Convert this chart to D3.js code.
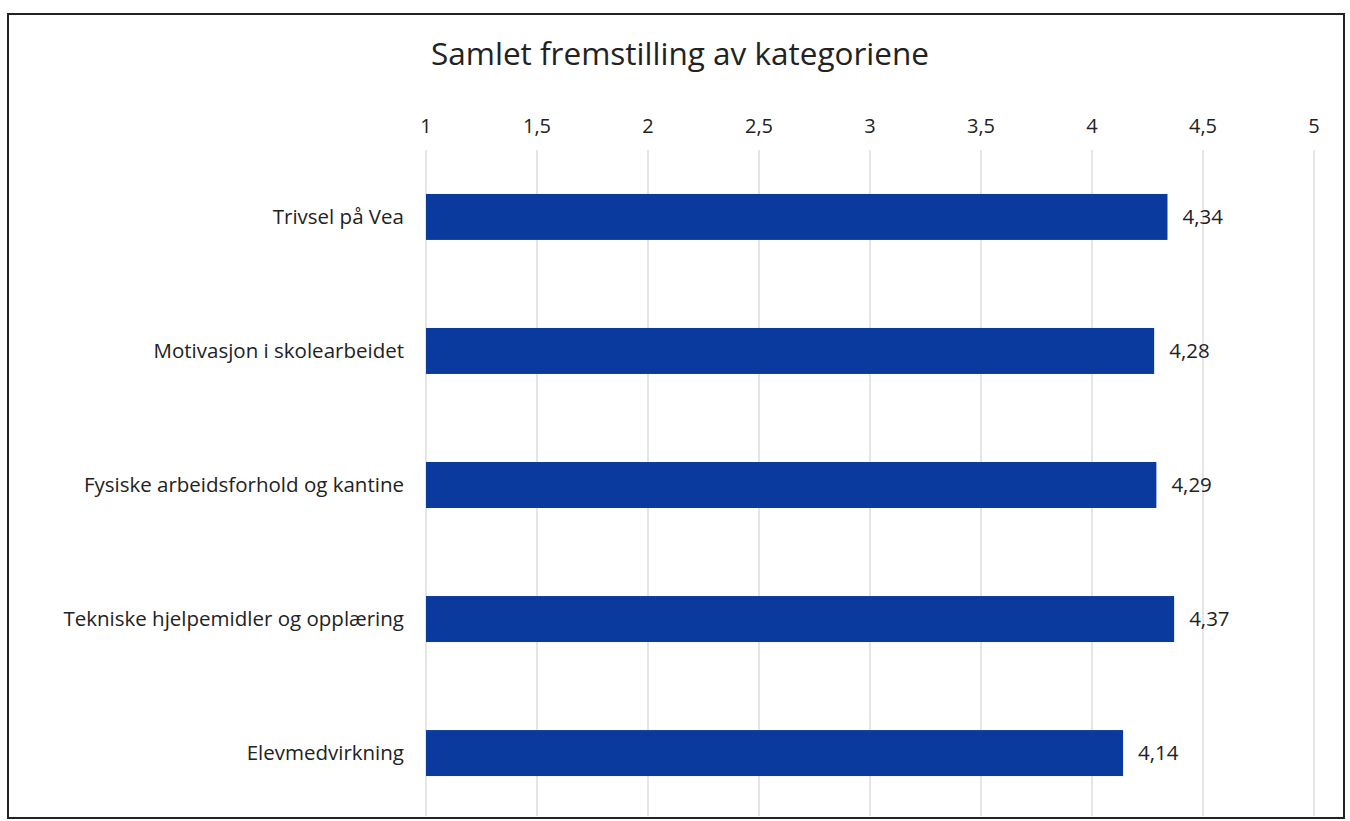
<!DOCTYPE html>
<html>
<head>
<meta charset="utf-8">
<script src="https://cdn.jsdelivr.net/npm/d3@7"></script>
<style>
  body { margin: 0; background: #fff; }
  svg { display: block; font-family: "Open Sans", Lato, sans-serif; }
</style>
</head>
<body>
<svg class="chart"></svg>
<script>
// chart data
var categories = ["Trivsel på Vea", "Motivasjon i skolearbeidet", "Fysiske arbeidsforhold og kantine",
                  "Tekniske hjelpemidler og opplæring", "Elevmedvirkning"]
var values = [4.34, 4.28, 4.29, 4.37, 4.14]
var ticks = [1, 1.5, 2, 2.5, 3, 3.5, 4, 4.5, 5]
var title = "Samlet fremstilling av kategoriene"

var screen = { width: 1350, height: 821 }
var margins = { top: 150, bottom: 0, left: 426, right: 36 }

var svg = d3.select('.chart')
    .attr('width', screen.width)
    .attr('height', screen.height)

// frame
svg.append('rect')
    .attr('x', 8).attr('y', 14)
    .attr('width', 1336).attr('height', 804)
    .attr('fill', 'none')
    .attr('stroke', '#222')
    .attr('stroke-width', 2)

svg.append('text')
    .attr('x', 680).attr('y', 65)
    .attr('text-anchor', 'middle')
    .attr('font-size', 31.5)
    .attr('fill', '#222')
    .text(title)

var x = d3.scaleLinear()
    .domain([1, 5])
    .range([margins.left, 1314])

var y = d3.scaleBand()
    .domain(categories)
    .range([margins.top, 820])
    .paddingInner(0.657)
    .paddingOuter(0.328)

var fmt = function(v) { return String(v).replace('.', ',') }

// gridlines
svg.append('g')
    .selectAll('line')
    .data(ticks)
    .enter()
    .append('line')
    .attr('x1', function(d) { return x(d) })
    .attr('x2', function(d) { return x(d) })
    .attr('y1', margins.top)
    .attr('y2', 816)
    .attr('stroke', '#dcdcdc')
    .attr('stroke-width', 1.5)

// top axis labels
svg.append('g')
    .selectAll('text')
    .data(ticks)
    .enter()
    .append('text')
    .attr('x', function(d) { return x(d) })
    .attr('y', 133)
    .attr('text-anchor', 'middle')
    .attr('font-size', 20)
    .attr('fill', '#222')
    .text(fmt)

var rows = categories.map(function(c, i) { return { cat: c, val: values[i] } })

// bars
svg.append('g')
    .selectAll('rect')
    .data(rows)
    .enter()
    .append('rect')
    .attr('x', x(1))
    .attr('y', function(d) { return y(d.cat) })
    .attr('width', function(d) { return x(d.val) - x(1) })
    .attr('height', y.bandwidth())
    .attr('fill', '#0b3a9e')

// value labels
svg.append('g')
    .selectAll('text')
    .data(rows)
    .enter()
    .append('text')
    .attr('x', function(d) { return x(d.val) + 15 })
    .attr('y', function(d) { return y(d.cat) + y.bandwidth() / 2 })
    .attr('dy', '0.35em')
    .attr('font-size', 20.5)
    .attr('fill', '#222')
    .text(function(d) { return fmt(d.val) })

// category labels
svg.append('g')
    .selectAll('text')
    .data(rows)
    .enter()
    .append('text')
    .attr('x', 404)
    .attr('y', function(d) { return y(d.cat) + y.bandwidth() / 2 })
    .attr('dy', '0.35em')
    .attr('text-anchor', 'end')
    .attr('font-size', 20.5)
    .attr('fill', '#222')
    .text(function(d) { return d.cat })
</script>
</body>
</html>
